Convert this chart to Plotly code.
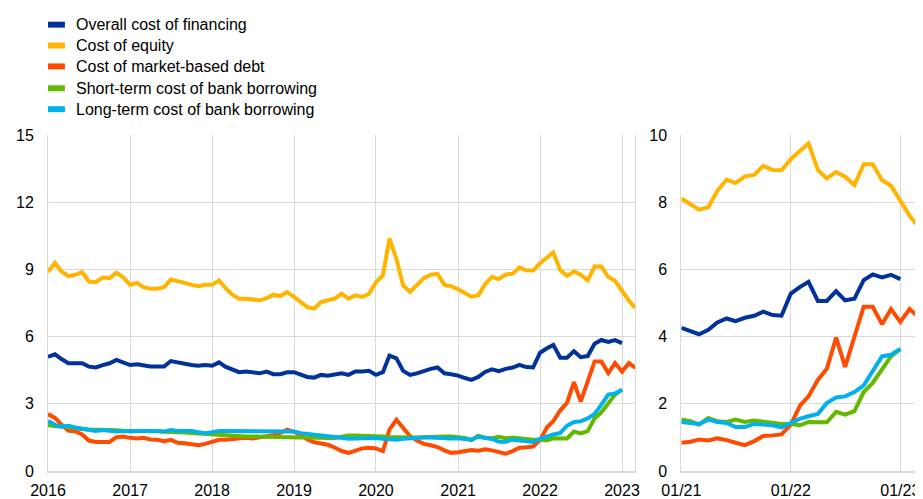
import pandas as pd
import plotly.graph_objects as go
from plotly.subplots import make_subplots

# Monthly data, starting January 2016
overall = [5.10, 5.21, 5.00, 4.81, 4.81, 4.81, 4.66, 4.62, 4.73, 4.81, 4.96, 4.85,
           4.73, 4.76, 4.70, 4.67, 4.66, 4.66, 4.91, 4.84, 4.78, 4.73, 4.70, 4.73,
           4.70, 4.85, 4.66, 4.51, 4.41, 4.44, 4.38, 4.36, 4.44, 4.32, 4.32, 4.41,
           4.41, 4.32, 4.20, 4.17, 4.29, 4.25, 4.29, 4.36, 4.29, 4.44, 4.44, 4.47,
           4.29, 4.41, 5.15, 5.03, 4.47, 4.29, 4.36, 4.48, 4.56, 4.62, 4.36, 4.32,
           4.26, 4.15, 4.07, 4.20, 4.42, 4.54, 4.46, 4.56, 4.62, 4.74, 4.64, 4.62,
           5.28, 5.48, 5.63, 5.06, 5.06, 5.35, 5.08, 5.13, 5.68, 5.85, 5.76, 5.84,
           5.71]

equity = [8.88, 9.29, 8.91, 8.70, 8.76, 8.88, 8.46, 8.43, 8.64, 8.61, 8.85, 8.65,
          8.31, 8.40, 8.21, 8.14, 8.14, 8.21, 8.55, 8.49, 8.40, 8.31, 8.25, 8.31,
          8.31, 8.51, 8.17, 7.87, 7.69, 7.69, 7.66, 7.62, 7.72, 7.87, 7.81, 7.99,
          7.77, 7.54, 7.32, 7.25, 7.54, 7.62, 7.69, 7.91, 7.69, 7.84, 7.77, 7.91,
          8.43, 8.73, 10.38, 9.47, 8.28, 7.99, 8.28, 8.61, 8.76, 8.80, 8.31, 8.25,
          8.11, 7.92, 7.78, 7.85, 8.34, 8.67, 8.57, 8.77, 8.81, 9.08, 8.96, 8.95,
          9.28, 9.53, 9.75, 8.96, 8.71, 8.90, 8.76, 8.51, 9.13, 9.13, 8.66, 8.49,
          8.05, 7.60, 7.28]

market_debt = [2.54, 2.37, 2.07, 1.80, 1.78, 1.63, 1.36, 1.30, 1.30, 1.30, 1.51, 1.54,
               1.48, 1.45, 1.48, 1.41, 1.39, 1.33, 1.39, 1.26, 1.24, 1.21, 1.15, 1.21,
               1.30, 1.39, 1.39, 1.42, 1.45, 1.48, 1.45, 1.48, 1.55, 1.60, 1.70, 1.85,
               1.75, 1.60, 1.41, 1.28, 1.21, 1.17, 1.05, 0.89, 0.81, 0.92, 1.01, 1.04,
               1.01, 0.89, 1.85, 2.29, 1.92, 1.55, 1.36, 1.21, 1.15, 1.07, 0.92, 0.81,
               0.84, 0.87, 0.94, 0.91, 0.97, 0.92, 0.84, 0.77, 0.89, 1.04, 1.06, 1.09,
               1.38, 1.95, 2.22, 2.71, 3.04, 3.97, 3.10, 4.00, 4.89, 4.89, 4.37, 4.82,
               4.44, 4.82, 4.60]

short_term_bank = [2.05, 2.00, 2.00, 1.95, 1.90, 1.88, 1.85, 1.85, 1.85, 1.83, 1.82, 1.80,
                   1.80, 1.80, 1.80, 1.80, 1.78, 1.75, 1.75, 1.73, 1.72, 1.70, 1.68, 1.65,
                   1.62, 1.60, 1.56, 1.54, 1.54, 1.54, 1.54, 1.54, 1.54, 1.54, 1.54, 1.54,
                   1.52, 1.50, 1.49, 1.47, 1.47, 1.47, 1.47, 1.52, 1.58, 1.58, 1.58, 1.58,
                   1.56, 1.54, 1.52, 1.50, 1.49, 1.49, 1.50, 1.52, 1.54, 1.54, 1.54, 1.54,
                   1.53, 1.48, 1.38, 1.58, 1.48, 1.46, 1.53, 1.46, 1.50, 1.46, 1.43, 1.40,
                   1.40, 1.36, 1.46, 1.45, 1.45, 1.76, 1.68, 1.78, 2.35, 2.62, 3.01, 3.41,
                   3.63]

long_term_bank = [2.23, 2.06, 1.98, 2.02, 1.94, 1.88, 1.83, 1.79, 1.83, 1.79, 1.76, 1.79,
                  1.76, 1.79, 1.79, 1.83, 1.79, 1.76, 1.83, 1.79, 1.79, 1.79, 1.73, 1.69,
                  1.73, 1.79, 1.79, 1.79, 1.78, 1.76, 1.76, 1.78, 1.79, 1.79, 1.79, 1.79,
                  1.76, 1.69, 1.65, 1.61, 1.58, 1.54, 1.52, 1.48, 1.44, 1.45, 1.47, 1.48,
                  1.47, 1.44, 1.40, 1.39, 1.44, 1.47, 1.49, 1.49, 1.49, 1.47, 1.44, 1.45,
                  1.46, 1.43, 1.40, 1.53, 1.46, 1.43, 1.31, 1.31, 1.40, 1.38, 1.36, 1.30,
                  1.43, 1.56, 1.63, 1.70, 2.02, 2.19, 2.22, 2.35, 2.55, 2.96, 3.41, 3.46,
                  3.63]

series_names = ["Overall cost of financing", "Cost of equity", "Cost of market-based debt",
                "Short-term cost of bank borrowing", "Long-term cost of bank borrowing"]
series_values = [overall, equity, market_debt, short_term_bank, long_term_bank]
series_colors = ["#003299", "#FFB400", "#FF4B00", "#65B800", "#00B1EA"]

start_date = "2016-01-01"
zoom_start = "2021-01-01"

W, H = 915, 491          # page body has an 8px margin
ML, MR, MT, MB = 40, 0, 127, 26
PW, PH = W - ML - MR, H - MT - MB

fig = make_subplots(rows=1, cols=2, column_widths=[0.675, 0.272], horizontal_spacing=0.053)

for name, vals, col in zip(series_names, series_values, series_colors):
    dates = pd.date_range(start_date, periods=len(vals), freq="MS")
    s = pd.Series(vals, index=dates)
    fig.add_trace(go.Scatter(x=s.index, y=s.values, mode="lines", name=name,
                             line=dict(color=col, width=4), showlegend=False), row=1, col=1)
    z = s[s.index >= zoom_start]
    fig.add_trace(go.Scatter(x=z.index, y=z.values, mode="lines", name=name,
                             line=dict(color=col, width=4), showlegend=False), row=1, col=2)

grid = "#d9d9d9"
font = dict(family="Liberation Sans, Arial, sans-serif", size=16, color="#000000")

fig.update_xaxes(showgrid=True, gridcolor=grid, gridwidth=1, showline=True, linecolor=grid,
                 linewidth=2, zeroline=False, ticks="", tickfont=font, ticklabelstandoff=4)
fig.update_yaxes(showgrid=True, gridcolor=grid, gridwidth=1, showline=True, linecolor=grid,
                 linewidth=1, mirror=True, zeroline=False, ticks="", tickfont=font,
                 ticklabelstandoff=10)

fig.update_xaxes(range=["2016-01-01", "2023-03-01"], dtick="M12", tick0="2016-01-01",
                 tickformat="%Y", row=1, col=1)
fig.update_xaxes(range=["2021-01-01", "2023-03-01"], dtick="M12", tick0="2021-01-01",
                 tickformat="%m/%y", row=1, col=2)
fig.update_yaxes(range=[0, 15], dtick=3, row=1, col=1)
fig.update_yaxes(range=[0, 10], dtick=2, row=1, col=2)

# Legend drawn as colour bars with text (positions in figure pixels)
legend_y = [16, 37, 58, 80, 101]
for name, col, yy in zip(series_names, series_colors, legend_y):
    fig.add_shape(type="rect", xref="paper", yref="paper",
                  x0=(40 - ML) / PW, x1=(57 - ML) / PW,
                  y0=(H - MB - yy - 3) / PH, y1=(H - MB - yy + 3) / PH,
                  fillcolor=col, line=dict(width=0))
    fig.add_annotation(xref="paper", yref="paper", x=(66 - ML) / PW, y=(H - MB - yy) / PH,
                       text=name, showarrow=False, xanchor="left", yanchor="middle",
                       font=dict(family="Liberation Sans, Arial, sans-serif", size=16,
                                 color="#000000"))

fig.update_layout(width=W, height=H, margin=dict(l=ML, r=MR, t=MT, b=MB),
                  plot_bgcolor="white", paper_bgcolor="white", showlegend=False)

fig.write_html("out.html")
